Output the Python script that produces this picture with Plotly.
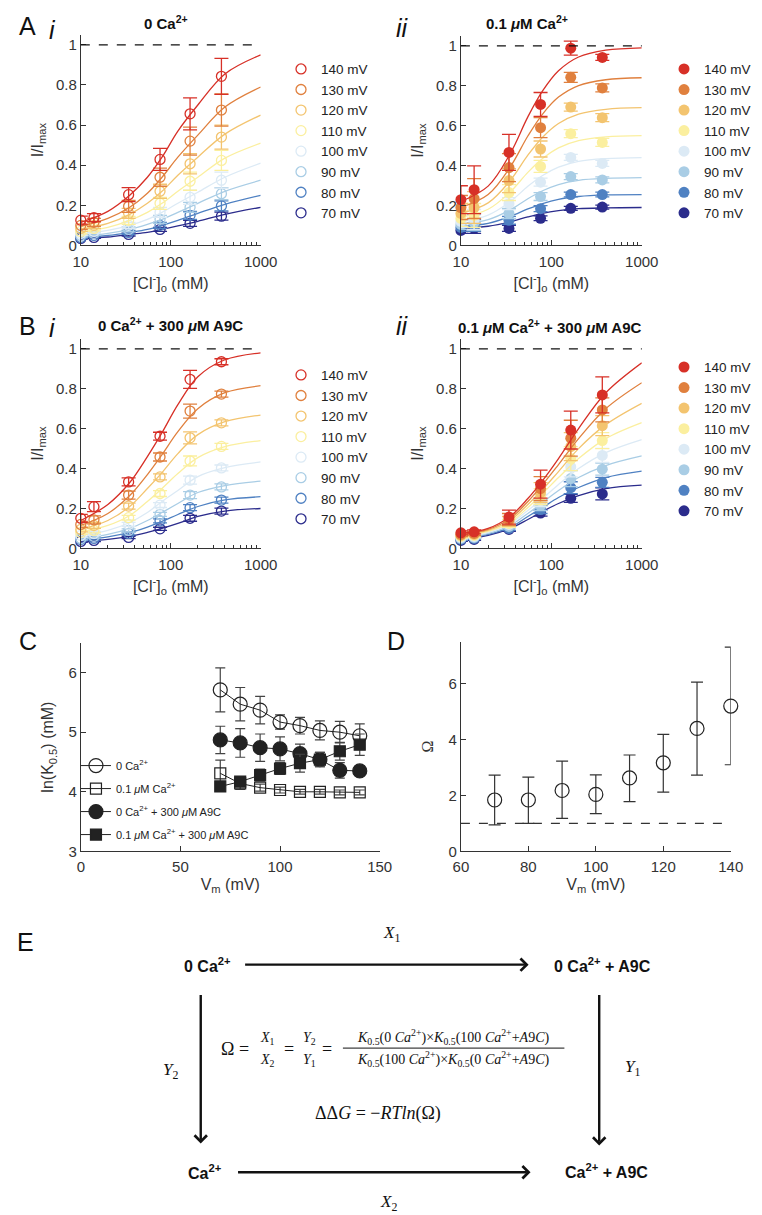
import plotly.graph_objects as go

W, H = 762, 1215

voltages = [140, 130, 120, 110, 100, 90, 80, 70]
colours = ['#d73027', '#e0803e', '#f3c46f', '#fbef9f', '#dceaf5', '#a9cde5', '#4f81c2', '#2b2c8c']
cl_conc = [10, 14, 34, 76, 164, 366]
fit_conc = [10, 20, 35, 55, 80, 120, 200, 400, 1000]

# panel A i: 0 Ca2+
ai_mean = [[0.126, 0.139, 0.253, 0.429, 0.656, 0.843],
           [0.100, 0.115, 0.195, 0.340, 0.520, 0.675],
           [0.085, 0.100, 0.160, 0.270, 0.407, 0.540],
           [0.070, 0.085, 0.125, 0.210, 0.320, 0.424],
           [0.060, 0.070, 0.100, 0.165, 0.240, 0.325],
           [0.050, 0.060, 0.080, 0.130, 0.190, 0.258],
           [0.040, 0.050, 0.065, 0.100, 0.150, 0.197],
           [0.035, 0.040, 0.055, 0.080, 0.110, 0.146]]
ai_err = [[0.020, 0.020, 0.035, 0.055, 0.080, 0.090],
          [0.020, 0.020, 0.030, 0.045, 0.070, 0.080],
          [0.015, 0.015, 0.025, 0.035, 0.050, 0.060],
          [0.012, 0.012, 0.020, 0.030, 0.045, 0.050],
          [0.010, 0.010, 0.015, 0.025, 0.035, 0.040],
          [0.008, 0.008, 0.012, 0.020, 0.025, 0.030],
          [0.006, 0.006, 0.010, 0.015, 0.020, 0.025],
          [0.005, 0.005, 0.008, 0.010, 0.015, 0.020]]
ai_fit = [[0.115, 0.170, 0.250, 0.340, 0.440, 0.570, 0.700, 0.855, 0.950],
          [0.095, 0.135, 0.190, 0.260, 0.340, 0.440, 0.550, 0.690, 0.790],
          [0.080, 0.110, 0.155, 0.210, 0.270, 0.350, 0.440, 0.555, 0.650],
          [0.065, 0.090, 0.125, 0.165, 0.210, 0.270, 0.340, 0.435, 0.510],
          [0.055, 0.075, 0.100, 0.130, 0.165, 0.210, 0.265, 0.340, 0.410],
          [0.045, 0.060, 0.080, 0.105, 0.130, 0.165, 0.210, 0.270, 0.325],
          [0.040, 0.050, 0.065, 0.080, 0.100, 0.125, 0.160, 0.205, 0.250],
          [0.035, 0.042, 0.055, 0.065, 0.080, 0.097, 0.120, 0.155, 0.190]]

# panel A ii: 0.1 uM Ca2+
aii_mean = [[0.229, 0.279, 0.466, 0.706, 0.988, 0.942],
            [0.190, 0.235, 0.390, 0.590, 0.842, 0.789],
            [0.160, 0.190, 0.325, 0.483, 0.693, 0.640],
            [0.135, 0.150, 0.265, 0.396, 0.560, 0.516],
            [0.120, 0.130, 0.209, 0.317, 0.441, 0.411],
            [0.105, 0.115, 0.160, 0.245, 0.345, 0.328],
            [0.090, 0.100, 0.126, 0.184, 0.255, 0.255],
            [0.075, 0.085, 0.085, 0.136, 0.186, 0.192]]
aii_err = [[0.070, 0.120, 0.090, 0.060, 0.035, 0.015],
           [0.060, 0.100, 0.070, 0.050, 0.025, 0.020],
           [0.050, 0.080, 0.060, 0.040, 0.020, 0.020],
           [0.040, 0.060, 0.040, 0.030, 0.020, 0.020],
           [0.030, 0.050, 0.030, 0.020, 0.015, 0.015],
           [0.025, 0.040, 0.025, 0.020, 0.015, 0.015],
           [0.020, 0.030, 0.020, 0.015, 0.012, 0.012],
           [0.015, 0.025, 0.015, 0.012, 0.010, 0.010]]
aii_fit = [[0.220, 0.297, 0.459, 0.644, 0.774, 0.875, 0.944, 0.978, 0.990],
           [0.190, 0.255, 0.392, 0.548, 0.658, 0.743, 0.801, 0.830, 0.840],
           [0.160, 0.213, 0.324, 0.452, 0.542, 0.611, 0.658, 0.682, 0.690],
           [0.140, 0.181, 0.267, 0.366, 0.435, 0.489, 0.525, 0.544, 0.550],
           [0.120, 0.152, 0.219, 0.296, 0.350, 0.392, 0.421, 0.435, 0.440],
           [0.105, 0.129, 0.178, 0.234, 0.274, 0.305, 0.326, 0.336, 0.340],
           [0.095, 0.111, 0.145, 0.183, 0.210, 0.231, 0.245, 0.253, 0.255],
           [0.085, 0.096, 0.118, 0.143, 0.161, 0.174, 0.184, 0.188, 0.190]]

# panel B i: 0 Ca2+ + 300 uM A9C
bi_mean = [[0.151, 0.209, 0.333, 0.562, 0.847, 0.935],
           [0.120, 0.143, 0.267, 0.458, 0.688, 0.773],
           [0.095, 0.115, 0.212, 0.358, 0.554, 0.629],
           [0.080, 0.090, 0.154, 0.275, 0.438, 0.511],
           [0.065, 0.075, 0.120, 0.217, 0.342, 0.403],
           [0.050, 0.060, 0.090, 0.171, 0.267, 0.308],
           [0.045, 0.050, 0.075, 0.138, 0.204, 0.242],
           [0.035, 0.040, 0.055, 0.098, 0.151, 0.187]]
bi_err = [[0.020, 0.025, 0.020, 0.020, 0.045, 0.015],
          [0.015, 0.020, 0.020, 0.020, 0.035, 0.015],
          [0.012, 0.015, 0.015, 0.015, 0.030, 0.015],
          [0.010, 0.012, 0.012, 0.015, 0.025, 0.015],
          [0.008, 0.010, 0.010, 0.012, 0.020, 0.015],
          [0.007, 0.008, 0.008, 0.010, 0.018, 0.015],
          [0.006, 0.007, 0.007, 0.010, 0.015, 0.015],
          [0.005, 0.006, 0.006, 0.008, 0.015, 0.015]]
bi_fit = [[0.140, 0.220, 0.330, 0.460, 0.580, 0.720, 0.860, 0.945, 0.980],
          [0.115, 0.175, 0.265, 0.370, 0.470, 0.585, 0.700, 0.780, 0.815],
          [0.095, 0.140, 0.210, 0.300, 0.380, 0.475, 0.570, 0.635, 0.668],
          [0.080, 0.115, 0.165, 0.235, 0.300, 0.375, 0.455, 0.510, 0.540],
          [0.065, 0.090, 0.130, 0.180, 0.235, 0.290, 0.360, 0.405, 0.433],
          [0.050, 0.070, 0.100, 0.140, 0.180, 0.225, 0.280, 0.315, 0.337],
          [0.042, 0.058, 0.080, 0.107, 0.135, 0.170, 0.210, 0.243, 0.259],
          [0.035, 0.045, 0.060, 0.080, 0.100, 0.125, 0.160, 0.187, 0.200]]

# panel B ii: 0.1 uM Ca2+ + 300 uM A9C
bii_mean = [[0.078, 0.083, 0.157, 0.322, 0.593, 0.769],
            [0.070, 0.075, 0.145, 0.300, 0.552, 0.694],
            [0.065, 0.070, 0.135, 0.280, 0.510, 0.615],
            [0.060, 0.065, 0.125, 0.260, 0.450, 0.540],
            [0.055, 0.060, 0.120, 0.240, 0.408, 0.466],
            [0.050, 0.055, 0.110, 0.215, 0.350, 0.397],
            [0.045, 0.050, 0.100, 0.195, 0.304, 0.331],
            [0.040, 0.045, 0.095, 0.177, 0.251, 0.273]]
bii_err = [[0.010, 0.010, 0.035, 0.070, 0.095, 0.090],
           [0.010, 0.010, 0.030, 0.060, 0.090, 0.060],
           [0.008, 0.008, 0.025, 0.050, 0.070, 0.050],
           [0.008, 0.008, 0.020, 0.040, 0.060, 0.040],
           [0.006, 0.006, 0.015, 0.030, 0.050, 0.035],
           [0.006, 0.006, 0.012, 0.025, 0.040, 0.030],
           [0.005, 0.005, 0.010, 0.020, 0.030, 0.025],
           [0.005, 0.005, 0.010, 0.015, 0.020, 0.030]]
bii_fit = [[0.075, 0.100, 0.160, 0.250, 0.340, 0.450, 0.600, 0.780, 0.930],
           [0.070, 0.095, 0.150, 0.235, 0.320, 0.420, 0.550, 0.700, 0.830],
           [0.065, 0.090, 0.140, 0.220, 0.295, 0.385, 0.500, 0.620, 0.727],
           [0.060, 0.085, 0.130, 0.205, 0.275, 0.355, 0.450, 0.550, 0.630],
           [0.055, 0.080, 0.125, 0.190, 0.250, 0.320, 0.400, 0.480, 0.545],
           [0.050, 0.075, 0.115, 0.175, 0.230, 0.290, 0.355, 0.415, 0.463],
           [0.045, 0.070, 0.105, 0.160, 0.205, 0.255, 0.305, 0.355, 0.387],
           [0.040, 0.065, 0.100, 0.145, 0.185, 0.225, 0.265, 0.300, 0.317]]

# panel C: ln(K0.5) vs Vm
vm = [70, 80, 90, 100, 110, 120, 130, 140]
lnk_0ca = [5.71, 5.47, 5.37, 5.17, 5.11, 5.03, 5.00, 4.94]
lnk_0ca_err = [0.37, 0.28, 0.23, 0.12, 0.14, 0.16, 0.18, 0.20]
lnk_01ca = [4.31, 4.14, 4.07, 4.03, 4.00, 4.00, 3.99, 3.99]
lnk_01ca_err = [0.22, 0.10, 0.06, 0.05, 0.04, 0.04, 0.04, 0.04]
lnk_0ca_a9c = [4.87, 4.82, 4.74, 4.72, 4.64, 4.54, 4.36, 4.35]
lnk_0ca_a9c_err = [0.23, 0.24, 0.23, 0.20, 0.16, 0.12, 0.13, 0.08]
lnk_01ca_a9c = [4.09, 4.17, 4.28, 4.39, 4.48, 4.54, 4.68, 4.79]
lnk_01ca_a9c_err = [0.08, 0.08, 0.10, 0.10, 0.15, 0.12, 0.15, 0.18]

# panel D: coupling coefficient
omega = [1.84, 1.84, 2.18, 2.04, 2.63, 3.17, 4.40, 5.20]
omega_up = [0.89, 0.82, 1.05, 0.70, 0.82, 1.02, 1.66, 2.11]
omega_down = [0.89, 0.84, 1.00, 0.69, 0.85, 1.05, 1.67, 2.10]

FONT = 'Liberation Sans, Arial, sans-serif'
SERIF = 'Liberation Serif, Times New Roman, serif'
AX = '#333333'


def px(x):
    return x / W


def py(y):
    return 1 - y / H


fig = go.Figure()

panels = [
    ('1', ai_mean, ai_err, ai_fit, False, 'legend'),
    ('2', aii_mean, aii_err, aii_fit, True, 'legend2'),
    ('3', bi_mean, bi_err, bi_fit, False, 'legend3'),
    ('4', bii_mean, bii_err, bii_fit, True, 'legend4'),
]
for n, mean, err, fit, filled, leg in panels:
    xa = 'x' if n == '1' else 'x' + n
    ya = 'y' if n == '1' else 'y' + n
    for i in reversed(range(len(voltages))):
        c = colours[i]
        fig.add_trace(go.Scatter(
            x=fit_conc, y=fit[i], xaxis=xa, yaxis=ya, mode='lines',
            line=dict(color=c, width=1.3, shape='spline', smoothing=1.0),
            showlegend=False, hoverinfo='skip',
        ))
        fig.add_trace(go.Scatter(
            x=cl_conc, y=mean[i], xaxis=xa, yaxis=ya, mode='markers',
            name=f'{voltages[i]} mV', legend=leg, cliponaxis=False,
            marker=dict(symbol='circle' if filled else 'circle-open', size=11 if filled else 10,
                        color=c, line=dict(width=0 if filled else 1.3, color=c)),
            error_y=dict(type='data', array=err[i], color=c, thickness=1.3, width=7),
        ))

c_series = [
    ('0 Ca<sup>2+</sup>', lnk_0ca, lnk_0ca_err, 'circle-open', 14),
    ('0.1 <i>μ</i>M Ca<sup>2+</sup>', lnk_01ca, lnk_01ca_err, 'square-open', 11),
    ('0 Ca<sup>2+</sup> + 300 <i>μ</i>M A9C', lnk_0ca_a9c, lnk_0ca_a9c_err, 'circle', 14),
    ('0.1 <i>μ</i>M Ca<sup>2+</sup> + 300 <i>μ</i>M A9C', lnk_01ca_a9c, lnk_01ca_a9c_err, 'square', 11),
]
for k, (name, y, e, sym, sz) in enumerate(c_series):
    fig.add_trace(go.Scatter(
        x=vm, y=y, xaxis='x5', yaxis='y5', mode='lines+markers', name=name,
        legend='legend5', legendgroup=str(k), cliponaxis=False,
        line=dict(color='#222222', width=1),
        marker=dict(symbol=sym, size=sz, color='#222222', line=dict(width=1.2, color='#222222')),
        error_y=dict(type='data', array=e, color='#444444', thickness=1.2, width=5),
    ))

fig.add_trace(go.Scatter(
    x=vm, y=omega, xaxis='x6', yaxis='y6', mode='markers', showlegend=False, cliponaxis=False,
    marker=dict(symbol='circle-open', size=14, color='#222222', line=dict(width=1.2)),
    error_y=dict(type='data', array=omega_up, arrayminus=omega_down, symmetric=False,
                 color='#333333', thickness=1.2, width=6),
))


def base_axis(**kw):
    d = dict(showline=True, linecolor=AX, linewidth=1, ticks='inside', ticklen=5,
             tickcolor=AX, showgrid=False, zeroline=False,
             tickfont=dict(family=FONT, size=15, color=AX),
             title_font=dict(family=FONT, size=16, color=AX))
    d.update(kw)
    return d


minor_log = [20, 30, 40, 50, 60, 70, 80, 90, 200, 300, 400, 500, 600, 700, 800, 900]
cl_title = '[Cl<sup>-</sup>]<sub>o</sub> (mM)'
dom = {
    '1': ([67, 253], [27, 239]),
    '2': ([460, 647], [28, 239]),
    '3': ([67, 253], [333, 544]),
    '4': ([460, 647], [333, 544]),
}
layout = {}
for n, (xd, yd) in dom.items():
    xk = 'xaxis' if n == '1' else 'xaxis' + n
    yk = 'yaxis' if n == '1' else 'yaxis' + n
    anchor_x = 'y' if n == '1' else 'y' + n
    anchor_y = 'x' if n == '1' else 'x' + n
    layout[xk] = base_axis(type='log', range=[1, 3], domain=[px(xd[0]), px(xd[1])], anchor=anchor_x,
                           tickmode='array', tickvals=[10, 100, 1000], ticktext=['10', '100', '1000'],
                           ticklabelstandoff=3,
                           minor=dict(ticks='inside', ticklen=3, tickcolor=AX, tickvals=minor_log),
                           title=dict(text=cl_title, standoff=8))
    layout[yk] = base_axis(range=[0, 1.05], domain=[py(yd[1]), py(yd[0])], anchor=anchor_y,
                           tickmode='array', tickvals=[0, 0.2, 0.4, 0.6, 0.8, 1],
                           ticktext=['0', '0.2', '0.4', '0.6', '0.8', '1'],
                           title=dict(text='I/I<sub>max</sub>', standoff=8))

layout['xaxis5'] = base_axis(range=[0, 150], domain=[px(67), px(376)], anchor='y5',
                             tickvals=[0, 50, 100, 150], ticklabelstandoff=2,
                             title=dict(text='V<sub>m</sub> (mV)', standoff=4))
layout['yaxis5'] = base_axis(range=[3, 6.5], domain=[py(849), py(639)], anchor='x5',
                             tickvals=[3, 4, 5, 6],
                             title=dict(text='ln(K<sub>0.5</sub>) (mM)', standoff=10))
layout['xaxis6'] = base_axis(range=[60, 140], domain=[px(460), px(739)], anchor='y6',
                             tickvals=[60, 80, 100, 120, 140], ticklabelstandoff=2,
                             title=dict(text='V<sub>m</sub> (mV)', standoff=4))
layout['yaxis6'] = base_axis(range=[0, 7.5], domain=[py(849), py(638)], anchor='x6',
                             tickvals=[0, 2, 4, 6],
                             title=dict(text='Ω', standoff=10, font=dict(family=SERIF, size=16, color=AX)))

leg_common = dict(font=dict(family=FONT, size=13.5, color='#222'), bgcolor='rgba(0,0,0,0)',
                  traceorder='reversed', xanchor='left', yanchor='top', itemwidth=30)
layout['legend'] = dict(x=px(274), y=py(46), **leg_common)
layout['legend2'] = dict(x=px(670), y=py(46), **leg_common)
layout['legend3'] = dict(x=px(274), y=py(354), **leg_common)
layout['legend4'] = dict(x=px(670), y=py(346), **leg_common)
layout['legend5'] = dict(x=px(62), y=py(748), xanchor='left', yanchor='top', bgcolor='rgba(0,0,0,0)',
                         font=dict(family=FONT, size=11, color='#222'), tracegroupgap=4,
                         traceorder='grouped', itemwidth=30)

shapes = []
for n in ['', '2', '3', '4']:
    shapes.append(dict(type='line', xref=f'x{n} domain', yref=f'y{n}', x0=0, x1=1, y0=1, y1=1,
                       line=dict(color='#111', width=1.2, dash='dash')))
shapes.append(dict(type='line', xref='x6 domain', yref='y6', x0=0, x1=1, y0=1, y1=1,
                   line=dict(color='#333', width=1.2, dash='dash')))
# fraction bar of the formula in E
shapes.append(dict(type='line', xref='paper', yref='paper', x0=px(338), x1=px(567),
                   y0=py(1047), y1=py(1047), line=dict(color='#111', width=1)))


def label(x, y, text, size=15, font=FONT, bold=False, **kw):
    if bold:
        text = f'<b>{text}</b>'
    return dict(x=px(x), y=py(y), xref='paper', yref='paper', text=text, showarrow=False,
                font=dict(family=font, size=size, color='#111'), xanchor='center', yanchor='middle', **kw)


ann = [
    label(12, 18, 'A', 25), label(38, 22, '<i>i</i>', 25),
    label(400, 20, '<i>ii</i>', 25),
    label(12, 320, 'B', 25), label(38, 322, '<i>i</i>', 25),
    label(400, 320, '<i>ii</i>', 25),
    label(12, 637, 'C', 25), label(393, 637, 'D', 25), label(10, 940, 'E', 25),
    label(155, 15, '0 Ca<sup>2+</sup>', 15, bold=True),
    label(528, 15, '0.1 <i>μ</i>M Ca<sup>2+</sup>', 15, bold=True),
    label(160, 319, '0 Ca<sup>2+</sup> + 300 <i>μ</i>M A9C', 15, bold=True),
    label(552, 321, '0.1 <i>μ</i>M Ca<sup>2+</sup> + 300 <i>μ</i>M A9C', 15, bold=True),
    # panel E diagram
    label(198, 963, '0 Ca<sup>2+</sup>', 16, bold=True),
    label(606, 963, '0 Ca<sup>2+</sup> + A9C', 16, bold=True),
    label(195, 1172, 'Ca<sup>2+</sup>', 16, bold=True),
    label(611, 1171, 'Ca<sup>2+</sup> + A9C', 16, bold=True),
    label(388, 932, '<i>X</i><sub>1</sub>', 17, SERIF),
    label(385, 1203, '<i>X</i><sub>2</sub>', 17, SERIF),
    label(160, 1070, '<i>Y</i><sub>2</sub>', 17, SERIF),
    label(637, 1067, '<i>Y</i><sub>1</sub>', 17, SERIF),
    label(226, 1048, 'Ω =', 18, SERIF),
    label(260, 1037, '<i>X</i><sub>1</sub>', 14, SERIF), label(260, 1059, '<i>X</i><sub>2</sub>', 14, SERIF),
    label(282, 1048, '=', 18, SERIF),
    label(303, 1037, '<i>Y</i><sub>2</sub>', 14, SERIF), label(303, 1059, '<i>Y</i><sub>1</sub>', 14, SERIF),
    label(322, 1048, '=', 18, SERIF),
    label(452, 1036, '<i>K</i><sub>0.5</sub>(0 <i>Ca</i><sup>2+</sup>)×<i>K</i><sub>0.5</sub>(100 <i>Ca</i><sup>2+</sup>+<i>A</i>9<i>C</i>)', 14, SERIF),
    label(452, 1058, '<i>K</i><sub>0.5</sub>(100 <i>Ca</i><sup>2+</sup>)×<i>K</i><sub>0.5</sub>(0 <i>Ca</i><sup>2+</sup>+<i>A</i>9<i>C</i>)', 14, SERIF),
    label(374, 1113, 'ΔΔ<i>G</i> = −<i>RTln</i>(Ω)', 18, SERIF),
]
for hx, hy, dx, dy in [(530, 963, -285, 0), (532, 1172, -294, 0), (191, 1143, 0, -150), (603, 1145, 0, -152)]:
    ann.append(dict(x=px(hx), y=py(hy), xref='paper', yref='paper', ax=dx, ay=dy, text='',
                    showarrow=True, arrowhead=4, arrowsize=1, arrowwidth=2.4, arrowcolor='#111'))

fig.update_layout(
    width=W, height=H, margin=dict(l=0, r=0, t=0, b=0),
    paper_bgcolor='white', plot_bgcolor='white',
    font=dict(family=FONT, color=AX),
    shapes=shapes, annotations=ann, **layout,
)

fig.write_html('out.html')
